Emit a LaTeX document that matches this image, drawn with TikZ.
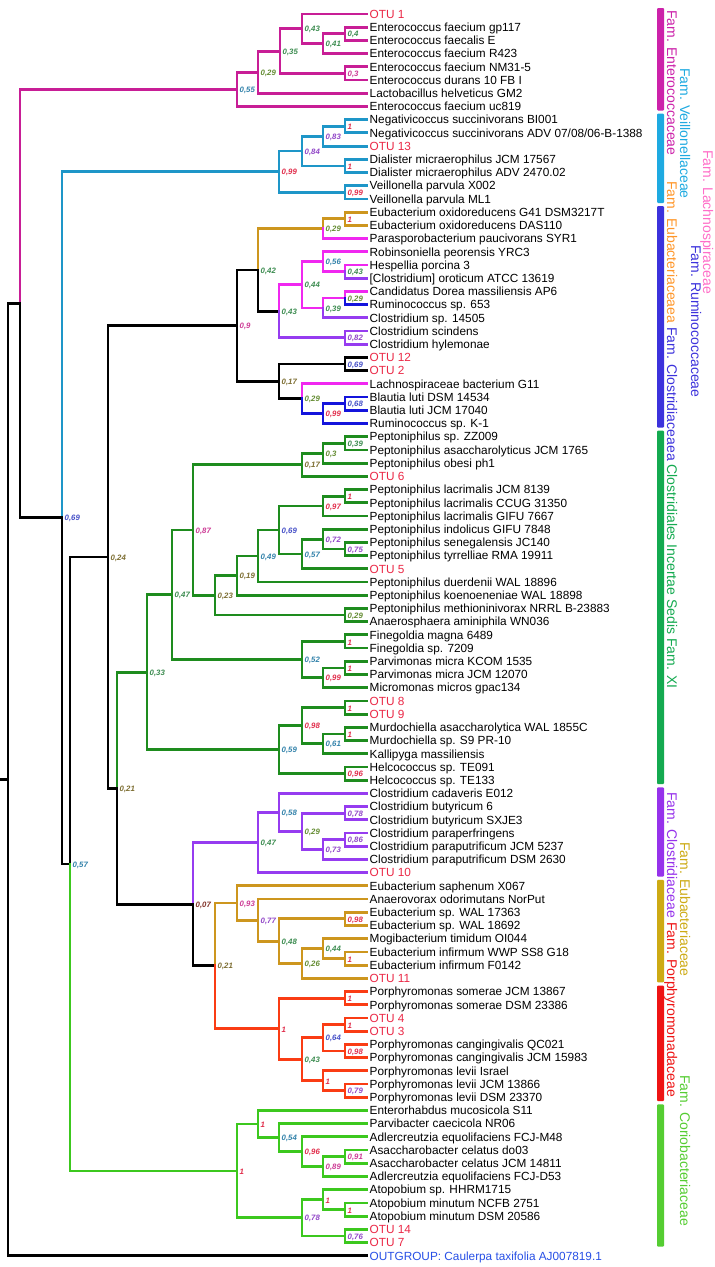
\documentclass[tikz,border=0pt]{standalone}
\usepackage{fontspec}
\setmainfont{Liberation Sans}
\usetikzlibrary{calc}
\definecolor{mg}{RGB}{200,30,150}
\definecolor{cy}{RGB}{30,150,200}
\definecolor{au}{RGB}{205,150,30}
\definecolor{pk}{RGB}{240,40,240}
\definecolor{vi}{RGB}{150,60,240}
\definecolor{bl}{RGB}{20,20,220}
\definecolor{gn}{RGB}{30,140,30}
\definecolor{rd}{RGB}{250,60,20}
\definecolor{lg}{RGB}{60,200,30}
\definecolor{otuc}{RGB}{235,40,70}
\definecolor{ogc}{RGB}{40,80,230}
\definecolor{c1}{RGB}{225,45,75}
\definecolor{c9}{RGB}{205,60,150}
\definecolor{c8}{RGB}{145,70,200}
\definecolor{c7}{RGB}{70,80,200}
\definecolor{c6}{RGB}{50,130,170}
\definecolor{c5}{RGB}{60,140,80}
\definecolor{c4}{RGB}{100,140,50}
\definecolor{c3}{RGB}{125,110,50}
\definecolor{c0}{RGB}{130,50,40}
\definecolor{fmg}{RGB}{204,34,170}
\definecolor{fcy}{RGB}{30,170,225}
\definecolor{fbl}{RGB}{60,50,220}
\definecolor{fgn}{RGB}{20,170,80}
\definecolor{fvi}{RGB}{150,50,235}
\definecolor{fau}{RGB}{205,170,20}
\definecolor{frd}{RGB}{238,20,20}
\definecolor{flg}{RGB}{85,205,50}
\definecolor{tpk}{RGB}{255,110,200}
\definecolor{tor}{RGB}{255,150,40}
\newcommand\mynode[4]{\path ($(#3)!.5!(#4)$) coordinate (tmpmid); \coordinate (#1) at (#2,0 |- tmpmid);}
\newcommand\br[3]{\draw[branch,draw=#3] (#1) |- (#2);}
\newcommand\sv[3]{\node[sval,text=#3] at (#1) {#2};}
\begin{document}
\begin{tikzpicture}[x=1pt,y=-1pt,
 branch/.style={line width=2.8pt,line cap=rect},
 leaf/.style={anchor=west,inner sep=0pt,inner xsep=2.5pt,text height=8.5pt,text depth=0pt,font=\fontsize{11.8}{12}\selectfont},
 otu/.style={leaf,text=otuc},
 sval/.style={anchor=west,inner sep=0pt,xshift=2.5pt,yshift=-1pt,font=\fontsize{7.8}{8}\selectfont\bfseries\itshape},
 fam/.style={rotate=-90,anchor=west,inner sep=0pt,text height=10pt,text depth=0pt,font=\fontsize{14}{14}\selectfont},
 bar/.style={rounded corners=1pt}]
\fill[white] (0,0) rectangle (715,1267);
\useasboundingbox (0,0) rectangle (715,1267);
% leaves
\node[otu] (l1) at (367,14.00) {OTU 1};
\node[leaf] (l2) at (367,27.21) {Enterococcus faecium gp117};
\node[leaf] (l3) at (367,40.42) {Enterococcus faecalis E};
\node[leaf] (l4) at (367,53.63) {Enterococcus faecium R423};
\node[leaf] (l5) at (367,66.84) {Enterococcus faecium NM31-5};
\node[leaf] (l6) at (367,80.05) {Enterococcus durans 10 FB I};
\node[leaf] (l7) at (367,93.26) {Lactobacillus helveticus GM2};
\node[leaf] (l8) at (367,106.47) {Enterococcus faecium uc819};
\node[leaf] (l9) at (367,119.68) {Negativicoccus succinivorans BI001};
\node[leaf] (l10) at (367,132.89) {Negativicoccus succinivorans ADV 07/08/06-B-1388};
\node[otu] (l11) at (367,146.10) {OTU 13};
\node[leaf] (l12) at (367,159.31) {Dialister micraerophilus JCM 17567};
\node[leaf] (l13) at (367,172.52) {Dialister micraerophilus ADV 2470.02};
\node[leaf] (l14) at (367,185.73) {Veillonella parvula X002};
\node[leaf] (l15) at (367,198.94) {Veillonella parvula ML1};
\node[leaf] (l16) at (367,212.15) {Eubacterium oxidoreducens G41 DSM3217T};
\node[leaf] (l17) at (367,225.36) {Eubacterium oxidoreducens DAS110};
\node[leaf] (l18) at (367,238.57) {Parasporobacterium paucivorans SYR1};
\node[leaf] (l19) at (367,251.78) {Robinsoniella peorensis YRC3};
\node[leaf] (l20) at (367,264.99) {Hespellia porcina 3};
\node[leaf] (l21) at (367,278.20) {[Clostridium] oroticum ATCC 13619};
\node[leaf] (l22) at (367,291.41) {Candidatus Dorea massiliensis AP6};
\node[leaf] (l23) at (367,304.62) {Ruminococcus sp. 653};
\node[leaf] (l24) at (367,317.83) {Clostridium sp. 14505};
\node[leaf] (l25) at (367,331.04) {Clostridium scindens};
\node[leaf] (l26) at (367,344.25) {Clostridium hylemonae};
\node[otu] (l27) at (367,357.46) {OTU 12};
\node[otu] (l28) at (367,370.67) {OTU 2};
\node[leaf] (l29) at (367,383.88) {Lachnospiraceae bacterium G11};
\node[leaf] (l30) at (367,397.09) {Blautia luti DSM 14534};
\node[leaf] (l31) at (367,410.30) {Blautia luti JCM 17040};
\node[leaf] (l32) at (367,423.51) {Ruminococcus sp. K-1};
\node[leaf] (l33) at (367,436.72) {Peptoniphilus sp. ZZ009};
\node[leaf] (l34) at (367,449.93) {Peptoniphilus asaccharolyticus JCM 1765};
\node[leaf] (l35) at (367,463.14) {Peptoniphilus obesi ph1};
\node[otu] (l36) at (367,476.35) {OTU 6};
\node[leaf] (l37) at (367,489.56) {Peptoniphilus lacrimalis JCM 8139};
\node[leaf] (l38) at (367,502.77) {Peptoniphilus lacrimalis CCUG 31350};
\node[leaf] (l39) at (367,515.98) {Peptoniphilus lacrimalis GIFU 7667};
\node[leaf] (l40) at (367,529.19) {Peptoniphilus indolicus GIFU 7848};
\node[leaf] (l41) at (367,542.40) {Peptoniphilus senegalensis JC140};
\node[leaf] (l42) at (367,555.61) {Peptoniphilus tyrrelliae RMA 19911};
\node[otu] (l43) at (367,568.82) {OTU 5};
\node[leaf] (l44) at (367,582.03) {Peptoniphilus duerdenii WAL 18896};
\node[leaf] (l45) at (367,595.24) {Peptoniphilus koenoeneniae WAL 18898};
\node[leaf] (l46) at (367,608.45) {Peptoniphilus methioninivorax NRRL B-23883};
\node[leaf] (l47) at (367,621.66) {Anaerosphaera aminiphila WN036};
\node[leaf] (l48) at (367,634.87) {Finegoldia magna 6489};
\node[leaf] (l49) at (367,648.08) {Finegoldia sp. 7209};
\node[leaf] (l50) at (367,661.29) {Parvimonas micra KCOM 1535};
\node[leaf] (l51) at (367,674.50) {Parvimonas micra JCM 12070};
\node[leaf] (l52) at (367,687.71) {Micromonas micros gpac134};
\node[otu] (l53) at (367,700.92) {OTU 8};
\node[otu] (l54) at (367,714.13) {OTU 9};
\node[leaf] (l55) at (367,727.34) {Murdochiella asaccharolytica WAL 1855C};
\node[leaf] (l56) at (367,740.55) {Murdochiella sp. S9 PR-10};
\node[leaf] (l57) at (367,753.76) {Kallipyga massiliensis};
\node[leaf] (l58) at (367,766.97) {Helcococcus sp. TE091};
\node[leaf] (l59) at (367,780.18) {Helcococcus sp. TE133};
\node[leaf] (l60) at (367,793.39) {Clostridium cadaveris E012};
\node[leaf] (l61) at (367,806.60) {Clostridium butyricum 6};
\node[leaf] (l62) at (367,819.81) {Clostridium butyricum SXJE3};
\node[leaf] (l63) at (367,833.02) {Clostridium paraperfringens};
\node[leaf] (l64) at (367,846.23) {Clostridium paraputrificum JCM 5237};
\node[leaf] (l65) at (367,859.44) {Clostridium paraputrificum DSM 2630};
\node[otu] (l66) at (367,872.65) {OTU 10};
\node[leaf] (l67) at (367,885.86) {Eubacterium saphenum X067};
\node[leaf] (l68) at (367,899.07) {Anaerovorax odorimutans NorPut};
\node[leaf] (l69) at (367,912.28) {Eubacterium sp. WAL 17363};
\node[leaf] (l70) at (367,925.49) {Eubacterium sp. WAL 18692};
\node[leaf] (l71) at (367,938.70) {Mogibacterium timidum OI044};
\node[leaf] (l72) at (367,951.91) {Eubacterium infirmum WWP SS8 G18};
\node[leaf] (l73) at (367,965.12) {Eubacterium infirmum F0142};
\node[otu] (l74) at (367,978.33) {OTU 11};
\node[leaf] (l75) at (367,991.54) {Porphyromonas somerae JCM 13867};
\node[leaf] (l76) at (367,1004.75) {Porphyromonas somerae DSM 23386};
\node[otu] (l77) at (367,1017.96) {OTU 4};
\node[otu] (l78) at (367,1031.17) {OTU 3};
\node[leaf] (l79) at (367,1044.38) {Porphyromonas cangingivalis QC021};
\node[leaf] (l80) at (367,1057.59) {Porphyromonas cangingivalis JCM 15983};
\node[leaf] (l81) at (367,1070.80) {Porphyromonas levii Israel};
\node[leaf] (l82) at (367,1084.01) {Porphyromonas levii JCM 13866};
\node[leaf] (l83) at (367,1097.22) {Porphyromonas levii DSM 23370};
\node[leaf] (l84) at (367,1110.43) {Enterorhabdus mucosicola S11};
\node[leaf] (l85) at (367,1123.64) {Parvibacter caecicola NR06};
\node[leaf] (l86) at (367,1136.85) {Adlercreutzia equolifaciens FCJ-M48};
\node[leaf] (l87) at (367,1150.06) {Asaccharobacter celatus do03};
\node[leaf] (l88) at (367,1163.27) {Asaccharobacter celatus JCM 14811};
\node[leaf] (l89) at (367,1176.48) {Adlercreutzia equolifaciens FCJ-D53};
\node[leaf] (l90) at (367,1189.69) {Atopobium sp. HHRM1715};
\node[leaf] (l91) at (367,1202.90) {Atopobium minutum NCFB 2751};
\node[leaf] (l92) at (367,1216.11) {Atopobium minutum DSM 20586};
\node[otu] (l93) at (367,1229.32) {OTU 14};
\node[otu] (l94) at (367,1242.53) {OTU 7};
\node[leaf,text=ogc] (l95) at (367,1255.74) {OUTGROUP: Caulerpa taxifolia AJ007819.1};
% internal nodes: Enterococcaceae
\mynode{e04}{345}{l2.west}{l3.west}
\mynode{e041}{323}{e04}{l4.west}
\mynode{e043}{302}{l1.west}{e041}
\mynode{e03}{345}{l5.west}{l6.west}
\mynode{e035}{280}{e043}{e03}
\mynode{e029}{258}{e035}{l7.west}
\mynode{e055}{237}{e029}{l8.west}
% Veillonellaceae
\mynode{v1a}{345}{l9.west}{l10.west}
\mynode{v083}{323}{v1a}{l11.west}
\mynode{v1b}{345}{l12.west}{l13.west}
\mynode{v084}{302}{v083}{v1b}
\mynode{v099b}{345}{l14.west}{l15.west}
\mynode{v099}{279}{v084}{v099b}
% Lachno / Rumino group
\mynode{a1}{345}{l16.west}{l17.west}
\mynode{a029}{323}{a1}{l18.west}
\mynode{a043c}{345}{l20.west}{l21.west}
\mynode{a056}{323}{l19.west}{a043c}
\mynode{a029d}{345}{l22.west}{l23.west}
\mynode{a039}{323}{a029d}{l24.west}
\mynode{a044}{302}{a056}{a039}
\mynode{a082}{345}{l25.west}{l26.west}
\mynode{a043b}{279}{a044}{a082}
\mynode{a042}{258}{a029}{a043b}
\mynode{a069}{345}{l27.west}{l28.west}
\mynode{a068}{345}{l30.west}{l31.west}
\mynode{a099}{323}{a068}{l32.west}
\mynode{a029e}{302}{l29.west}{a099}
\mynode{a017}{279}{a069}{a029e}
\mynode{a09}{237}{a042}{a017}
% Incertae sedis XI
\mynode{g039}{345}{l33.west}{l34.west}
\mynode{g03}{323}{g039}{l35.west}
\mynode{g017}{302}{g03}{l36.west}
\mynode{g1d}{345}{l37.west}{l38.west}
\mynode{g097}{323}{g1d}{l39.west}
\mynode{g075}{345}{l41.west}{l42.west}
\mynode{g072}{323}{l40.west}{g075}
\mynode{g057}{302}{g072}{l43.west}
\mynode{g069}{279}{g097}{g057}
\mynode{g049}{258}{g069}{l44.west}
\mynode{g019}{237}{g049}{l45.west}
\mynode{g029f}{345}{l46.west}{l47.west}
\mynode{g023}{215}{g019}{g029f}
\mynode{g087}{193}{g017}{g023}
\mynode{g1e}{345}{l48.west}{l49.west}
\mynode{g1f}{345}{l50.west}{l51.west}
\mynode{g099}{323}{g1f}{l52.west}
\mynode{g052}{302}{g1e}{g099}
\mynode{g047}{172}{g087}{g052}
\mynode{g1g}{345}{l53.west}{l54.west}
\mynode{g1h}{345}{l55.west}{l56.west}
\mynode{g061}{323}{g1h}{l57.west}
\mynode{g098}{302}{g1g}{g061}
\mynode{g096}{345}{l58.west}{l59.west}
\mynode{g059}{279}{g098}{g096}
\mynode{g033}{147}{g047}{g059}
% Clostridiaceae
\mynode{c078}{345}{l61.west}{l62.west}
\mynode{c086}{345}{l63.west}{l64.west}
\mynode{c073}{323}{c086}{l65.west}
\mynode{c029}{302}{c078}{c073}
\mynode{c058}{279}{l60.west}{c029}
\mynode{c047}{258}{c058}{l66.west}
% Eubacteriaceae
\mynode{u098}{345}{l69.west}{l70.west}
\mynode{u1}{345}{l72.west}{l73.west}
\mynode{u044}{323}{l71.west}{u1}
\mynode{u026}{302}{u044}{l74.west}
\mynode{u048}{279}{u098}{u026}
\mynode{u077}{258}{l68.west}{u048}
\mynode{u093}{237}{l67.west}{u077}
% Porphyromonadaceae
\mynode{p1k}{345}{l75.west}{l76.west}
\mynode{p1l}{345}{l77.west}{l78.west}
\mynode{p098}{345}{l79.west}{l80.west}
\mynode{p064}{323}{p1l}{p098}
\mynode{p079}{345}{l82.west}{l83.west}
\mynode{p1m}{323}{l81.west}{p079}
\mynode{p043}{302}{p064}{p1m}
\mynode{p1n}{279}{p1k}{p043}
\mynode{u021}{215}{u093}{p1n}
\mynode{c007}{193}{c047}{u021}
% Coriobacteriaceae
\mynode{k091}{345}{l87.west}{l88.west}
\mynode{k089}{323}{k091}{l89.west}
\mynode{k096}{302}{l86.west}{k089}
\mynode{k054}{279}{l85.west}{k096}
\mynode{k1o}{258}{l84.west}{k054}
\mynode{k1p}{345}{l91.west}{l92.west}
\mynode{k1q}{323}{l90.west}{k1p}
\mynode{k076}{345}{l93.west}{l94.west}
\mynode{k078}{302}{k1q}{k076}
\mynode{k1r}{237}{k1o}{k078}
% backbone
\mynode{b021}{117}{g033}{c007}
\mynode{b024}{108}{a09}{b021}
\mynode{b057}{70}{b024}{k1r}
\mynode{b069}{62}{v099}{b057}
\mynode{bI}{20}{e055}{b069}
\mynode{bR}{8}{bI}{l95.west}
\coordinate (r0) at (0,0 |- bR);
% ---- branches
\draw[branch] (r0) -- (bR);
\br{bR}{bI}{black} \br{bR}{l95.west}{black}
\br{bI}{e055}{mg} \br{bI}{b069}{black}
\br{b069}{v099}{cy} \br{b069}{b057}{black}
\br{b057}{b024}{black} \br{b057}{k1r}{lg}
\br{b024}{a09}{black} \br{b024}{b021}{black}
\br{b021}{g033}{gn} \br{b021}{c007}{black}
\br{c007}{c047}{vi} \br{c007}{u021}{black}
\br{u021}{u093}{au} \br{u021}{p1n}{rd}
% Enterococcaceae
\br{e055}{e029}{mg} \br{e055}{l8.west}{mg}
\br{e029}{e035}{mg} \br{e029}{l7.west}{mg}
\br{e035}{e043}{mg} \br{e035}{e03}{mg}
\br{e043}{l1.west}{mg} \br{e043}{e041}{mg}
\br{e041}{e04}{mg} \br{e041}{l4.west}{mg}
\br{e04}{l2.west}{mg} \br{e04}{l3.west}{mg}
\br{e03}{l5.west}{mg} \br{e03}{l6.west}{mg}
% Veillonellaceae
\br{v099}{v084}{cy} \br{v099}{v099b}{cy}
\br{v084}{v083}{cy} \br{v084}{v1b}{cy}
\br{v083}{v1a}{cy} \br{v083}{l11.west}{cy}
\br{v1a}{l9.west}{cy} \br{v1a}{l10.west}{cy}
\br{v1b}{l12.west}{cy} \br{v1b}{l13.west}{cy}
\br{v099b}{l14.west}{cy} \br{v099b}{l15.west}{cy}
% Lachno group
\br{a09}{a042}{black} \br{a09}{a017}{black}
\br{a042}{a029}{au} \br{a042}{a043b}{black}
\br{a029}{a1}{au} \br{a029}{l18.west}{pk}
\br{a1}{l16.west}{au} \br{a1}{l17.west}{au}
\br{a043b}{a044}{pk} \br{a043b}{a082}{vi}
\br{a044}{a056}{pk} \br{a044}{a039}{pk}
\br{a056}{l19.west}{pk} \br{a056}{a043c}{pk}
\br{a043c}{l20.west}{pk} \br{a043c}{l21.west}{vi}
\br{a039}{a029d}{pk} \br{a039}{l24.west}{vi}
\br{a029d}{l22.west}{pk} \br{a029d}{l23.west}{bl}
\br{a082}{l25.west}{vi} \br{a082}{l26.west}{vi}
\br{a017}{a069}{black} \br{a017}{a029e}{black}
\br{a069}{l27.west}{black} \br{a069}{l28.west}{black}
\br{a029e}{l29.west}{pk} \br{a029e}{a099}{bl}
\br{a099}{a068}{bl} \br{a099}{l32.west}{bl}
\br{a068}{l30.west}{bl} \br{a068}{l31.west}{bl}
% Incertae sedis
\br{g033}{g047}{gn} \br{g033}{g059}{gn}
\br{g047}{g087}{gn} \br{g047}{g052}{gn}
\br{g087}{g017}{gn} \br{g087}{g023}{gn}
\br{g017}{g03}{gn} \br{g017}{l36.west}{gn}
\br{g03}{g039}{gn} \br{g03}{l35.west}{gn}
\br{g039}{l33.west}{gn} \br{g039}{l34.west}{gn}
\br{g023}{g019}{gn} \br{g023}{g029f}{gn}
\br{g019}{g049}{gn} \br{g019}{l45.west}{gn}
\br{g049}{g069}{gn} \br{g049}{l44.west}{gn}
\br{g069}{g097}{gn} \br{g069}{g057}{gn}
\br{g097}{g1d}{gn} \br{g097}{l39.west}{gn}
\br{g1d}{l37.west}{gn} \br{g1d}{l38.west}{gn}
\br{g057}{g072}{gn} \br{g057}{l43.west}{gn}
\br{g072}{l40.west}{gn} \br{g072}{g075}{gn}
\br{g075}{l41.west}{gn} \br{g075}{l42.west}{gn}
\br{g029f}{l46.west}{gn} \br{g029f}{l47.west}{gn}
\br{g052}{g1e}{gn} \br{g052}{g099}{gn}
\br{g1e}{l48.west}{gn} \br{g1e}{l49.west}{gn}
\br{g099}{g1f}{gn} \br{g099}{l52.west}{gn}
\br{g1f}{l50.west}{gn} \br{g1f}{l51.west}{gn}
\br{g059}{g098}{gn} \br{g059}{g096}{gn}
\br{g098}{g1g}{gn} \br{g098}{g061}{gn}
\br{g1g}{l53.west}{gn} \br{g1g}{l54.west}{gn}
\br{g061}{g1h}{gn} \br{g061}{l57.west}{gn}
\br{g1h}{l55.west}{gn} \br{g1h}{l56.west}{gn}
\br{g096}{l58.west}{gn} \br{g096}{l59.west}{gn}
% Clostridiaceae
\br{c047}{c058}{vi} \br{c047}{l66.west}{vi}
\br{c058}{l60.west}{vi} \br{c058}{c029}{vi}
\br{c029}{c078}{vi} \br{c029}{c073}{vi}
\br{c078}{l61.west}{vi} \br{c078}{l62.west}{vi}
\br{c073}{c086}{vi} \br{c073}{l65.west}{vi}
\br{c086}{l63.west}{vi} \br{c086}{l64.west}{vi}
% Eubacteriaceae
\br{u093}{l67.west}{au} \br{u093}{u077}{au}
\br{u077}{l68.west}{au} \br{u077}{u048}{au}
\br{u048}{u098}{au} \br{u048}{u026}{au}
\br{u098}{l69.west}{au} \br{u098}{l70.west}{au}
\br{u026}{u044}{au} \br{u026}{l74.west}{au}
\br{u044}{l71.west}{au} \br{u044}{u1}{au}
\br{u1}{l72.west}{au} \br{u1}{l73.west}{au}
% Porphyromonadaceae
\br{p1n}{p1k}{rd} \br{p1n}{p043}{rd}
\br{p1k}{l75.west}{rd} \br{p1k}{l76.west}{rd}
\br{p043}{p064}{rd} \br{p043}{p1m}{rd}
\br{p064}{p1l}{rd} \br{p064}{p098}{rd}
\br{p1l}{l77.west}{rd} \br{p1l}{l78.west}{rd}
\br{p098}{l79.west}{rd} \br{p098}{l80.west}{rd}
\br{p1m}{l81.west}{rd} \br{p1m}{p079}{rd}
\br{p079}{l82.west}{rd} \br{p079}{l83.west}{rd}
% Coriobacteriaceae
\br{k1r}{k1o}{lg} \br{k1r}{k078}{lg}
\br{k1o}{l84.west}{lg} \br{k1o}{k054}{lg}
\br{k054}{l85.west}{lg} \br{k054}{k096}{lg}
\br{k096}{l86.west}{lg} \br{k096}{k089}{lg}
\br{k089}{k091}{lg} \br{k089}{l89.west}{lg}
\br{k091}{l87.west}{lg} \br{k091}{l88.west}{lg}
\br{k078}{k1q}{lg} \br{k078}{k076}{lg}
\br{k1q}{l90.west}{lg} \br{k1q}{k1p}{lg}
\br{k1p}{l91.west}{lg} \br{k1p}{l92.west}{lg}
\br{k076}{l93.west}{lg} \br{k076}{l94.west}{lg}
% ---- support values
\sv{e04}{0,4}{c5} \sv{e041}{0,41}{c5} \sv{e043}{0,43}{c5} \sv{e03}{0,3}{c9}
\sv{e035}{0,35}{c5} \sv{e029}{0,29}{c4} \sv{e055}{0,55}{c6}
\sv{v1a}{1}{c1} \sv{v083}{0,83}{c8} \sv{v1b}{1}{c1} \sv{v084}{0,84}{c8}
\sv{v099b}{0,99}{c1} \sv{v099}{0,99}{c1}
\sv{a1}{1}{c1} \sv{a029}{0,29}{c4} \sv{a043c}{0,43}{c5} \sv{a056}{0,56}{c6}
\sv{a029d}{0,29}{c4} \sv{a039}{0,39}{c5} \sv{a044}{0,44}{c5} \sv{a082}{0,82}{c8}
\sv{a043b}{0,43}{c5} \sv{a042}{0,42}{c5} \sv{a069}{0,69}{c7} \sv{a068}{0,68}{c7}
\sv{a099}{0,99}{c1} \sv{a029e}{0,29}{c4} \sv{a017}{0,17}{c3} \sv{a09}{0,9}{c9}
\sv{g039}{0,39}{c5} \sv{g03}{0,3}{c4} \sv{g017}{0,17}{c3} \sv{g1d}{1}{c1}
\sv{g097}{0,97}{c1} \sv{g075}{0,75}{c8} \sv{g072}{0,72}{c8} \sv{g057}{0,57}{c6}
\sv{g069}{0,69}{c7} \sv{g049}{0,49}{c6} \sv{g019}{0,19}{c3} \sv{g029f}{0,29}{c4}
\sv{g023}{0,23}{c3} \sv{g087}{0,87}{c9} \sv{g1e}{1}{c1} \sv{g1f}{1}{c1}
\sv{g099}{0,99}{c1} \sv{g052}{0,52}{c6} \sv{g047}{0,47}{c5} \sv{g1g}{1}{c1}
\sv{g1h}{1}{c1} \sv{g061}{0,61}{c6} \sv{g098}{0,98}{c1} \sv{g096}{0,96}{c1}
\sv{g059}{0,59}{c6} \sv{g033}{0,33}{c5}
\sv{c078}{0,78}{c8} \sv{c086}{0,86}{c8} \sv{c073}{0,73}{c8} \sv{c029}{0,29}{c4}
\sv{c058}{0,58}{c6} \sv{c047}{0,47}{c5}
\sv{u098}{0,98}{c1} \sv{u1}{1}{c1} \sv{u044}{0,44}{c5} \sv{u026}{0,26}{c4}
\sv{u048}{0,48}{c5} \sv{u077}{0,77}{c8} \sv{u093}{0,93}{c9}
\sv{p1k}{1}{c1} \sv{p1l}{1}{c1} \sv{p098}{0,98}{c1} \sv{p064}{0,64}{c7}
\sv{p079}{0,79}{c8} \sv{p1m}{1}{c1} \sv{p043}{0,43}{c5} \sv{p1n}{1}{c1}
\sv{u021}{0,21}{c3} \sv{c007}{0,07}{c0}
\sv{k091}{0,91}{c9} \sv{k089}{0,89}{c9} \sv{k096}{0,96}{c1} \sv{k054}{0,54}{c6}
\sv{k1o}{1}{c1} \sv{k1p}{1}{c1} \sv{k1q}{1}{c1} \sv{k076}{0,76}{c8}
\sv{k078}{0,78}{c8} \sv{k1r}{1}{c1}
\sv{b021}{0,21}{c3} \sv{b024}{0,24}{c3} \sv{b057}{0,57}{c6} \sv{b069}{0,69}{c7}
% ---- family bars
\fill[bar,fmg] (657,8) rectangle (664,110.5);
\fill[bar,fcy] (657,113.7) rectangle (664,203);
\fill[bar,fbl] (657,206.2) rectangle (664,427.5);
\fill[bar,fgn] (657,430.7) rectangle (664,784.2);
\fill[bar,fvi] (657,787.4) rectangle (664,876.7);
\fill[bar,fau] (657,879.9) rectangle (664,982.3);
\fill[bar,frd] (657,985.5) rectangle (664,1101.2);
\fill[bar,flg] (657,1104.4) rectangle (664,1246.5);
% ---- family names
\node[fam,text=fmg] (fEnt) at (672,10) {Fam. Enterococcaceae};
\node[fam] (fMix) at (672,181) {\textcolor{tor}{Fam. Eubacteriaceaea} \textcolor{fbl}{Fam. Clostridiaceaea} \textcolor{fgn}{Clostridiales Incertae Sedis Fam. XI}};
\node[fam,text=fvi] (fClo) at (672,792) {Fam. Clostridiaceae};
\node[fam,text=frd] (fPor) at (672,922) {Fam. Porphyromonadaceae};
\node[fam,text=fcy] (fVei) at (685,68) {Fam. Veillonellaceae};
\node[fam,text=fau] (fEub) at (685,842) {Fam. Eubacteriaceae};
\node[fam,text=flg] (fCor) at (685,1075) {Fam. Coriobacteriaceae};
\node[fam,text=fbl] (fRum) at (696,245) {Fam. Ruminococcaceae};
\node[fam,text=tpk] (fLac) at (708,150) {Fam. Lachnospiraceae};
\end{tikzpicture}
\end{document}
